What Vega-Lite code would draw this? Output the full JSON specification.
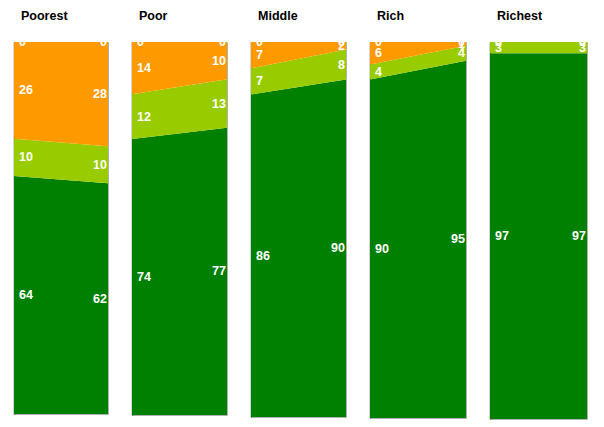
{
  "$schema": "https://vega.github.io/schema/vega-lite/v6.json",
  "background": "white",
  "padding": {"left": 13, "top": 9, "right": 5, "bottom": 5},
  "datasets": {
    "d": [
      {"panel": "Poorest", "pos": 0, "cat": "C1", "order": 1, "value": 64},
      {"panel": "Poorest", "pos": 0, "cat": "C2", "order": 2, "value": 10},
      {"panel": "Poorest", "pos": 0, "cat": "C3", "order": 3, "value": 26},
      {"panel": "Poorest", "pos": 0, "cat": "C4", "order": 4, "value": 0},
      {"panel": "Poorest", "pos": 1, "cat": "C1", "order": 1, "value": 62},
      {"panel": "Poorest", "pos": 1, "cat": "C2", "order": 2, "value": 10},
      {"panel": "Poorest", "pos": 1, "cat": "C3", "order": 3, "value": 28},
      {"panel": "Poorest", "pos": 1, "cat": "C4", "order": 4, "value": 0},
      {"panel": "Poor", "pos": 0, "cat": "C1", "order": 1, "value": 74},
      {"panel": "Poor", "pos": 0, "cat": "C2", "order": 2, "value": 12},
      {"panel": "Poor", "pos": 0, "cat": "C3", "order": 3, "value": 14},
      {"panel": "Poor", "pos": 0, "cat": "C4", "order": 4, "value": 0},
      {"panel": "Poor", "pos": 1, "cat": "C1", "order": 1, "value": 77},
      {"panel": "Poor", "pos": 1, "cat": "C2", "order": 2, "value": 13},
      {"panel": "Poor", "pos": 1, "cat": "C3", "order": 3, "value": 10},
      {"panel": "Poor", "pos": 1, "cat": "C4", "order": 4, "value": 0},
      {"panel": "Middle", "pos": 0, "cat": "C1", "order": 1, "value": 86},
      {"panel": "Middle", "pos": 0, "cat": "C2", "order": 2, "value": 7},
      {"panel": "Middle", "pos": 0, "cat": "C3", "order": 3, "value": 7},
      {"panel": "Middle", "pos": 0, "cat": "C4", "order": 4, "value": 0},
      {"panel": "Middle", "pos": 1, "cat": "C1", "order": 1, "value": 90},
      {"panel": "Middle", "pos": 1, "cat": "C2", "order": 2, "value": 8},
      {"panel": "Middle", "pos": 1, "cat": "C3", "order": 3, "value": 2},
      {"panel": "Middle", "pos": 1, "cat": "C4", "order": 4, "value": 0},
      {"panel": "Rich", "pos": 0, "cat": "C1", "order": 1, "value": 90},
      {"panel": "Rich", "pos": 0, "cat": "C2", "order": 2, "value": 4},
      {"panel": "Rich", "pos": 0, "cat": "C3", "order": 3, "value": 6},
      {"panel": "Rich", "pos": 0, "cat": "C4", "order": 4, "value": 0},
      {"panel": "Rich", "pos": 1, "cat": "C1", "order": 1, "value": 95},
      {"panel": "Rich", "pos": 1, "cat": "C2", "order": 2, "value": 4},
      {"panel": "Rich", "pos": 1, "cat": "C3", "order": 3, "value": 1},
      {"panel": "Rich", "pos": 1, "cat": "C4", "order": 4, "value": 0},
      {"panel": "Richest", "pos": 0, "cat": "C1", "order": 1, "value": 97},
      {"panel": "Richest", "pos": 0, "cat": "C2", "order": 2, "value": 3},
      {"panel": "Richest", "pos": 0, "cat": "C3", "order": 3, "value": 0},
      {"panel": "Richest", "pos": 0, "cat": "C4", "order": 4, "value": 0},
      {"panel": "Richest", "pos": 1, "cat": "C1", "order": 1, "value": 97},
      {"panel": "Richest", "pos": 1, "cat": "C2", "order": 2, "value": 3},
      {"panel": "Richest", "pos": 1, "cat": "C3", "order": 3, "value": 0},
      {"panel": "Richest", "pos": 1, "cat": "C4", "order": 4, "value": 0}
    ]
  },
  "data": {"name": "d"},
  "transform": [
    {"stack": "value", "groupby": ["panel", "pos"], "sort": [{"field": "order", "order": "ascending"}], "as": ["y0", "y1"]},
    {"calculate": "(datum.y0 + datum.y1) / 2", "as": "ymid"}
  ],
  "spacing": 22,
  "config": {
    "view": {"stroke": "#b0b0b0", "strokeWidth": 1},
    "font": "Liberation Sans",
    "title": {"anchor": "start", "dx": 7, "fontSize": 12.5, "fontWeight": "bold", "font": "Liberation Sans", "color": "#000", "offset": 20}
  },
  "hconcat": [
    {
      "title": "Poorest", "width": 94, "height": 372,
      "transform": [{"filter": "datum.panel === 'Poorest'"}],
      "encoding": {
        "x": {"field": "pos", "type": "quantitative", "scale": {"domain": [0, 1], "nice": false}, "axis": null},
        "y": {"field": "y1", "type": "quantitative", "scale": {"domain": [0, 100], "nice": false}, "axis": {"title": null, "labels": false, "ticks": false, "grid": false, "domainColor": "#555", "domainWidth": 1.5}}
      },
      "layer": [
        {"mark": {"type": "area", "interpolate": "linear"}, "encoding": {"y2": {"field": "y0"}, "color": {"field": "cat", "type": "nominal", "scale": {"domain": ["C1", "C2", "C3", "C4"], "range": ["#008000", "#99CC00", "#FF9900", "#FF0000"]}, "legend": null}}},
        {"transform": [{"filter": "datum.pos === 0"}], "mark": {"type": "text", "align": "left", "dx": 5, "color": "white", "fontWeight": "bold", "fontSize": 12.5, "clip": true}, "encoding": {"y": {"field": "ymid", "type": "quantitative"}, "text": {"field": "value"}}},
        {"transform": [{"filter": "datum.pos === 1"}], "mark": {"type": "text", "align": "right", "dx": -1, "color": "white", "fontWeight": "bold", "fontSize": 12.5, "clip": true}, "encoding": {"y": {"field": "ymid", "type": "quantitative"}, "text": {"field": "value"}}}
      ]
    },
    {
      "title": "Poor", "width": 95, "height": 373,
      "transform": [{"filter": "datum.panel === 'Poor'"}],
      "encoding": {
        "x": {"field": "pos", "type": "quantitative", "scale": {"domain": [0, 1], "nice": false}, "axis": null},
        "y": {"field": "y1", "type": "quantitative", "scale": {"domain": [0, 100], "nice": false}, "axis": {"title": null, "labels": false, "ticks": false, "grid": false, "domainColor": "#555", "domainWidth": 1.5}}
      },
      "layer": [
        {"mark": {"type": "area", "interpolate": "linear"}, "encoding": {"y2": {"field": "y0"}, "color": {"field": "cat", "type": "nominal", "scale": {"domain": ["C1", "C2", "C3", "C4"], "range": ["#008000", "#99CC00", "#FF9900", "#FF0000"]}, "legend": null}}},
        {"transform": [{"filter": "datum.pos === 0"}], "mark": {"type": "text", "align": "left", "dx": 5, "color": "white", "fontWeight": "bold", "fontSize": 12.5, "clip": true}, "encoding": {"y": {"field": "ymid", "type": "quantitative"}, "text": {"field": "value"}}},
        {"transform": [{"filter": "datum.pos === 1"}], "mark": {"type": "text", "align": "right", "dx": -1, "color": "white", "fontWeight": "bold", "fontSize": 12.5, "clip": true}, "encoding": {"y": {"field": "ymid", "type": "quantitative"}, "text": {"field": "value"}}}
      ]
    },
    {
      "title": "Middle", "width": 95, "height": 375,
      "transform": [{"filter": "datum.panel === 'Middle'"}],
      "encoding": {
        "x": {"field": "pos", "type": "quantitative", "scale": {"domain": [0, 1], "nice": false}, "axis": null},
        "y": {"field": "y1", "type": "quantitative", "scale": {"domain": [0, 100], "nice": false}, "axis": {"title": null, "labels": false, "ticks": false, "grid": false, "domainColor": "#555", "domainWidth": 1.5}}
      },
      "layer": [
        {"mark": {"type": "area", "interpolate": "linear"}, "encoding": {"y2": {"field": "y0"}, "color": {"field": "cat", "type": "nominal", "scale": {"domain": ["C1", "C2", "C3", "C4"], "range": ["#008000", "#99CC00", "#FF9900", "#FF0000"]}, "legend": null}}},
        {"transform": [{"filter": "datum.pos === 0"}], "mark": {"type": "text", "align": "left", "dx": 5, "color": "white", "fontWeight": "bold", "fontSize": 12.5, "clip": true}, "encoding": {"y": {"field": "ymid", "type": "quantitative"}, "text": {"field": "value"}}},
        {"transform": [{"filter": "datum.pos === 1"}], "mark": {"type": "text", "align": "right", "dx": -1, "color": "white", "fontWeight": "bold", "fontSize": 12.5, "clip": true}, "encoding": {"y": {"field": "ymid", "type": "quantitative"}, "text": {"field": "value"}}}
      ]
    },
    {
      "title": "Rich", "width": 96, "height": 376,
      "transform": [{"filter": "datum.panel === 'Rich'"}],
      "encoding": {
        "x": {"field": "pos", "type": "quantitative", "scale": {"domain": [0, 1], "nice": false}, "axis": null},
        "y": {"field": "y1", "type": "quantitative", "scale": {"domain": [0, 100], "nice": false}, "axis": {"title": null, "labels": false, "ticks": false, "grid": false, "domainColor": "#555", "domainWidth": 1.5}}
      },
      "layer": [
        {"mark": {"type": "area", "interpolate": "linear"}, "encoding": {"y2": {"field": "y0"}, "color": {"field": "cat", "type": "nominal", "scale": {"domain": ["C1", "C2", "C3", "C4"], "range": ["#008000", "#99CC00", "#FF9900", "#FF0000"]}, "legend": null}}},
        {"transform": [{"filter": "datum.pos === 0"}], "mark": {"type": "text", "align": "left", "dx": 5, "color": "white", "fontWeight": "bold", "fontSize": 12.5, "clip": true}, "encoding": {"y": {"field": "ymid", "type": "quantitative"}, "text": {"field": "value"}}},
        {"transform": [{"filter": "datum.pos === 1"}], "mark": {"type": "text", "align": "right", "dx": -1, "color": "white", "fontWeight": "bold", "fontSize": 12.5, "clip": true}, "encoding": {"y": {"field": "ymid", "type": "quantitative"}, "text": {"field": "value"}}}
      ]
    },
    {
      "title": "Richest", "width": 97, "height": 377,
      "transform": [{"filter": "datum.panel === 'Richest'"}],
      "encoding": {
        "x": {"field": "pos", "type": "quantitative", "scale": {"domain": [0, 1], "nice": false}, "axis": null},
        "y": {"field": "y1", "type": "quantitative", "scale": {"domain": [0, 100], "nice": false}, "axis": {"title": null, "labels": false, "ticks": false, "grid": false, "domainColor": "#555", "domainWidth": 1.5}}
      },
      "layer": [
        {"mark": {"type": "area", "interpolate": "linear"}, "encoding": {"y2": {"field": "y0"}, "color": {"field": "cat", "type": "nominal", "scale": {"domain": ["C1", "C2", "C3", "C4"], "range": ["#008000", "#99CC00", "#FF9900", "#FF0000"]}, "legend": null}}},
        {"transform": [{"filter": "datum.pos === 0"}], "mark": {"type": "text", "align": "left", "dx": 5, "color": "white", "fontWeight": "bold", "fontSize": 12.5, "clip": true}, "encoding": {"y": {"field": "ymid", "type": "quantitative"}, "text": {"field": "value"}}},
        {"transform": [{"filter": "datum.pos === 1"}], "mark": {"type": "text", "align": "right", "dx": -1, "color": "white", "fontWeight": "bold", "fontSize": 12.5, "clip": true}, "encoding": {"y": {"field": "ymid", "type": "quantitative"}, "text": {"field": "value"}}}
      ]
    }
  ]
}
